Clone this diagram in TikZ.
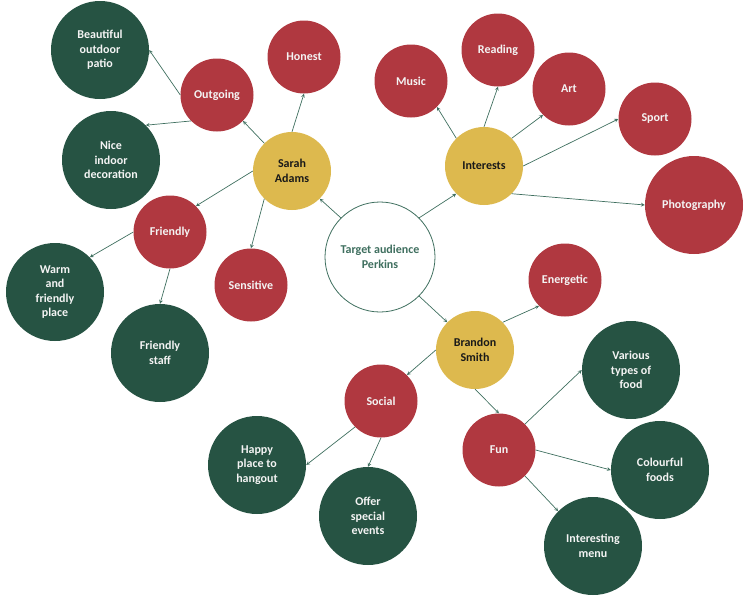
\documentclass[tikz,border=0pt]{standalone}
\usepackage{fontspec}
\setmainfont{Carlito}
\usepackage{tikz}
\usetikzlibrary{shapes,arrows}

\definecolor{mapred}{RGB}{176,56,64}
\definecolor{mapgreen}{RGB}{38,83,67}
\definecolor{mapgold}{RGB}{221,185,78}
\definecolor{mapline}{RGB}{63,111,95}
\definecolor{maptext}{RGB}{244,244,244}

\begin{document}
\begin{tikzpicture}[x=1pt, y=-1pt,
          every node/.style={circle, inner sep=0pt, align=center, font=\fontsize{12}{14.5}\selectfont\bfseries},
          root/.style={draw=mapline, line width=0.8pt, fill=white, text=mapline, minimum size=110pt},
          hub/.style={fill=mapgold, text=black!90, minimum size=78pt},
          topic/.style={fill=mapred, text=maptext, minimum size=73pt},
          leaf/.style={fill=mapgreen, text=maptext, minimum size=98pt},
          link/.style={->, >=stealth, draw=mapline, line width=0.7pt}]

          \useasboundingbox (0,0) rectangle (749,600);

          % centre and the three branches
          \node[root] (target) at (380,257) {Target audience\\Perkins};
          \node[hub] (sarah) at (292,171) {Sarah\\Adams};
          \node[hub] (interests) at (484,166) {Interests};
          \node[hub] (brandon) at (475,350) {Brandon\\Smith};

          % Sarah Adams
          \node[topic] (outgoing) at (217,95) {Outgoing};
          \node[topic] (honest) at (304,57) {Honest};
          \node[topic] (friendly) at (170,232) {Friendly};
          \node[topic] (sensitive) at (251,285) {Sensitive};
          \node[leaf] (patio) at (100,50) {Beautiful\\outdoor\\patio};
          \node[leaf] (indoor) at (111,160) {Nice\\indoor\\decoration};
          \node[leaf] (warm) at (55,292) {Warm\\and\\friendly\\place};
          \node[leaf] (staff) at (160,353) {Friendly\\staff};

          % Interests
          \node[topic] (music) at (411,81) {Music};
          \node[topic] (reading) at (498,50) {Reading};
          \node[topic] (art) at (569,89) {Art};
          \node[topic] (sport) at (655,119) {Sport};
          \node[topic, minimum size=98pt] (photo) at (694,205) {Photography};

          % Brandon Smith
          \node[topic] (energetic) at (565,280) {Energetic};
          \node[topic] (social) at (381,401) {Social};
          \node[topic] (fun) at (499,450) {Fun};
          \node[leaf] (happy) at (257,465) {Happy\\place to\\hangout};
          \node[leaf] (events) at (368,516) {Offer\\special\\events};
          \node[leaf] (food) at (631,370) {Various\\types of\\food};
          \node[leaf] (colourful) at (660,470) {Colourful\\foods};
          \node[leaf] (menu) at (593,546) {Interesting\\menu};

          \draw[link] (target.135) -- (sarah.-45);
          \draw[link] (target.45) -- (interests.225);
          \draw[link] (target.-45) -- (brandon.135);

          \draw[link] (sarah.135) -- (outgoing.-45);
          \draw[link] (sarah.90) -- (honest.270);
          \draw[link] (sarah.180) -- (friendly.45);
          \draw[link] (sarah.225) -- (sensitive.90);
          \draw[link] (outgoing.180) -- (patio.0);
          \draw[link] (outgoing.225) -- (indoor.45);
          \draw[link] (friendly.180) -- (warm.45);
          \draw[link] (friendly.270) -- (staff.90);

          \draw[link] (interests.135) -- (music.-45);
          \draw[link] (interests.90) -- (reading.270);
          \draw[link] (interests.45) -- (art.225);
          \draw[link] (interests.0) -- (sport.180);
          \draw[link] (interests.-45) -- (photo.180);

          \draw[link] (brandon.45) -- (energetic.225);
          \draw[link] (brandon.180) -- (social.45);
          \draw[link] (brandon.270) -- (fun.90);
          \draw[link] (social.225) -- (happy.0);
          \draw[link] (social.270) -- (events.90);
          \draw[link] (fun.45) -- (food.180);
          \draw[link] (fun.0) -- (colourful.180);
          \draw[link] (fun.-45) -- (menu.135);
        \end{tikzpicture}
\end{document}
